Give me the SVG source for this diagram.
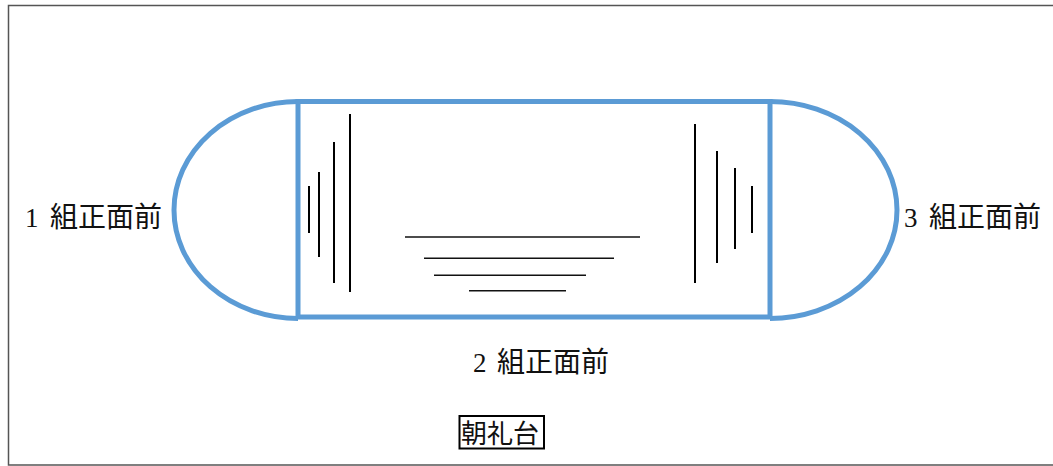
<svg xmlns="http://www.w3.org/2000/svg" width="1053" height="466" viewBox="0 0 1053 466">
<style>
.frame{fill:none;stroke:#555;stroke-width:1.5}
.track{fill:none;stroke:#5B9BD5;stroke-width:5}
.v{stroke:#000;stroke-width:2;fill:none}
.h{stroke:#111;stroke-width:1.6;fill:none}
.lbl{font-family:"Noto Sans CJK JP","Noto Sans",sans-serif;font-size:28px;fill:#111}
.num{font-family:"Liberation Serif",serif;font-size:27px}
.plat{font-family:"Noto Sans CJK JP","Noto Sans",sans-serif;font-size:26px;fill:#111}
.box{fill:#fff;stroke:#000;stroke-width:2}
</style>
<rect class="frame" x="8.5" y="5.5" width="1050" height="459.5"/>
<g id="track-left">
<path class="track" d="M298,101.5 A124,108.5 0 0 0 298,318.5"/>
</g>
<g id="track-right">
<path class="track" d="M770,101.5 A127,108.5 0 0 1 770,318.5"/>
</g>
<g id="field">
<rect class="track" x="298" y="101.5" width="472" height="215.5"/>
</g>
<g id="lines-left">
<line class="v" x1="309" y1="186" x2="309" y2="233"/>
<line class="v" x1="319" y1="172" x2="319" y2="257"/>
<line class="v" x1="334" y1="142" x2="334" y2="283"/>
<line class="v" x1="350" y1="114" x2="350" y2="292"/>
</g>
<g id="lines-right">
<line class="v" x1="695" y1="124" x2="695" y2="283"/>
<line class="v" x1="717" y1="151" x2="717" y2="263"/>
<line class="v" x1="735" y1="168" x2="735" y2="249"/>
<line class="v" x1="752" y1="186" x2="752" y2="233"/>
</g>
<g id="lines-bottom">
<line class="h" x1="405" y1="237" x2="640" y2="237"/>
<line class="h" x1="424" y1="258.3" x2="614" y2="258.3"/>
<line class="h" x1="434" y1="275.3" x2="586" y2="275.3"/>
<line class="h" x1="469" y1="290.7" x2="566" y2="290.7"/>
</g>
<g id="label-1">
<text class="lbl" y="227"><tspan class="num" x="25">1</tspan><tspan x="50">組正面前</tspan></text>
</g>
<g id="label-3">
<text class="lbl" y="227"><tspan class="num" x="904">3</tspan><tspan x="929">組正面前</tspan></text>
</g>
<g id="label-2">
<text class="lbl" y="372"><tspan class="num" x="473">2</tspan><tspan x="497">組正面前</tspan></text>
</g>
<g id="platform">
<rect class="box" x="459.5" y="416" width="84.5" height="32.5"/>
<text class="plat" x="461" y="443">朝礼台</text>
</g>
</svg>
